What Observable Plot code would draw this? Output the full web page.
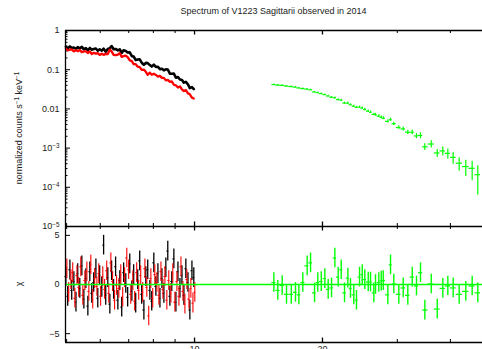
<!DOCTYPE html>
<html><head><meta charset="utf-8">
<script src="https://cdn.jsdelivr.net/npm/d3@7"></script>
<script src="https://cdn.jsdelivr.net/npm/@observablehq/plot@0.6"></script>
<style>
html,body{margin:0;padding:0;background:#fff;overflow:hidden;}
#wrap{position:relative;width:482px;height:349px;overflow:hidden;font-family:"Liberation Sans",Arial,sans-serif;color:#222;background:#fff;}
.abs{position:absolute;}
#title{left:65px;width:417px;top:7px;text-align:center;font-size:9px;line-height:9px;white-space:nowrap;}
.ylab{position:absolute;white-space:nowrap;font-size:9px;line-height:9px;transform:translate(-50%,-50%) rotate(-90deg);}
.ylab sup{font-size:6.3px;vertical-align:3px;line-height:0;}
svg{background:transparent !important;overflow:visible !important;}
</style></head><body>
<div id="wrap">
<div id="bot" class="abs" style="left:0;top:226px"></div>
<div id="top" class="abs" style="left:0;top:0"></div>
<div id="title" class="abs">Spectrum of V1223 Sagittarii observed in 2014</div>
<div class="ylab" style="left:19px;top:128px">normalized counts s<sup>−1</sup> keV<sup>−1</sup></div>
<div class="ylab" style="left:19px;top:284px">χ</div>
</div>
<script>
// ---------------- data ----------------
const xDomain = [4.97, 47.6];               // keV
const xTicksMinor = [5, 6, 7, 8, 9, 30, 40];
const xTicksMajor = [10, 20];
const xTickLabels = [10, 20];
const yTopMajor = [1e-5, 1e-4, 1e-3, 0.01, 0.1, 1];
const yTopDomain = [1e-5, 1];
const chiDomain = [-5.9, 5.9];
const chiTicks = [-5, 0, 5];

// black & red channel energies (keV), shared by spectra and residuals
const resE = [4.98,5.03,5.09,5.14,5.20,5.26,5.31,5.37,5.43,5.49,5.55,5.61,5.67,5.73,5.79,5.86,5.92,5.98,6.05,6.11,6.18,6.25,6.32,6.38,6.45,6.52,6.60,6.67,6.74,6.81,6.89,6.96,7.04,7.12,7.19,7.27,7.35,7.43,7.51,7.60,7.68,7.76,7.85,7.93,8.02,8.11,8.20,8.29,8.38,8.47,8.56,8.65,8.75,8.84,8.94,9.04,9.14,9.24,9.34,9.44,9.54,9.65,9.75,9.86,9.96];
// normalized counts s^-1 keV^-1
const blackRate = [0.387,0.354,0.392,0.358,0.369,0.336,0.376,0.351,0.382,0.330,0.355,0.313,0.358,0.324,0.335,0.348,0.305,0.330,0.308,0.345,0.287,0.339,0.354,0.401,0.333,0.338,0.311,0.331,0.268,0.312,0.301,0.275,0.276,0.222,0.218,0.176,0.182,0.183,0.151,0.134,0.149,0.147,0.131,0.120,0.135,0.118,0.119,0.103,0.106,0.0964,0.1025,0.101,0.079,0.0789,0.0795,0.0622,0.0652,0.0561,0.0549,0.0468,0.0489,0.0423,0.0340,0.0359,0.0319];
const redRate = [0.347,0.313,0.325,0.329,0.293,0.316,0.297,0.318,0.280,0.292,0.295,0.267,0.293,0.251,0.269,0.256,0.265,0.239,0.255,0.239,0.253,0.251,0.326,0.293,0.239,0.234,0.243,0.262,0.213,0.221,0.227,0.209,0.173,0.166,0.138,0.139,0.119,0.116,0.0987,0.101,0.0879,0.0741,0.084,0.0746,0.079,0.0736,0.0669,0.0694,0.0617,0.0619,0.0534,0.0549,0.0492,0.0501,0.0413,0.040,0.0352,0.0375,0.0316,0.0285,0.0301,0.0249,0.0236,0.0194,0.0184];
// residuals (chi)
const blackChi = [0.8,-1.2,1.5,-0.6,0.3,-1.8,1.1,-0.4,1.9,-1.5,0.6,-2.2,1.3,-0.9,0.2,1.6,-1.4,0.9,-0.3,4.0,-1.1,0.7,-2.0,1.4,-0.5,1.8,-1.6,0.4,-2.3,1.2,0.1,-1.3,2.1,-0.7,1.0,-1.9,0.5,2.4,-1.0,-2.6,0.8,1.5,-0.6,-1.7,2.2,-0.2,1.1,-1.4,0.6,-0.9,1.7,3.4,-1.2,0.3,2.6,-1.8,1.3,-0.4,0.9,-1.1,1.6,0.2,-2.6,1.4,0.7];
const redChi = [1.6,-0.8,0.5,1.2,-1.4,0.9,-0.3,1.8,-1.1,0.4,1.3,-0.7,2.0,-1.5,0.6,-0.2,1.1,-1.2,0.8,-0.5,1.4,-0.9,2.2,0.3,-1.6,-0.1,-0.4,1.0,-1.3,0.7,2.7,1.5,-1.0,0.4,-1.7,1.2,-0.6,0.9,-0.8,1.6,-0.3,-3.2,0.6,-1.4,1.0,0.2,-1.1,1.3,-0.5,0.8,-1.6,0.4,-0.9,1.1,-1.8,0.3,-1.2,1.8,-0.7,-2.0,0.5,-1.5,-0.4,-1.9,-0.8];

// green spectrum (top) and residuals (bottom)
const greenE = [15.37,15.70,16.08,16.46,16.89,17.28,17.60,17.98,18.41,18.75,19.16,19.50,19.87,20.26,20.63,21.01,21.39,21.78,22.14,22.54,22.95,23.28,23.70,24.05,24.45,24.81,25.16,25.63,25.95,26.42,26.66,27.14,27.50,27.80,28.50,28.92,29.44,30.25,30.98,31.76,32.53,33.29,34.02,34.83,36.06,37.25,38.39,39.45,40.61,41.95,43.48,45.01,46.40];
const greenRate = [0.0417,0.0403,0.0397,0.0382,0.0371,0.0359,0.0341,0.0329,0.0319,0.0306,0.0270,0.0260,0.0245,0.0231,0.0213,0.0198,0.0192,0.0172,0.0167,0.0141,0.0140,0.0128,0.0117,0.0109,0.0111,0.0105,0.00966,0.00876,0.00821,0.00723,0.00711,0.00652,0.00611,0.00577,0.00479,0.00530,0.00418,0.00335,0.00309,0.00254,0.00253,0.00204,0.00210,0.00108,0.00127,0.000752,0.000848,0.000734,0.000581,0.000412,0.000338,0.000305,0.000210];
const greenErrFrac = [0.035,0.035,0.035,0.035,0.035,0.036,0.037,0.038,0.039,0.04,0.041,0.042,0.043,0.044,0.045,0.046,0.048,0.05,0.052,0.054,0.056,0.058,0.06,0.062,0.064,0.066,0.068,0.07,0.073,0.076,0.078,0.08,0.083,0.086,0.09,0.095,0.1,0.11,0.12,0.13,0.14,0.15,0.17,0.19,0.21,0.23,0.26,0.29,0.33,0.38,0.44,0.52,0.7];
const greenChi = [0.2,-0.6,-0.1,-1.0,-1.0,-0.8,-1.05,0.2,1.9,2.2,-0.85,0.2,0.3,0.6,-0.5,-0.35,2.7,0.75,1.5,-0.85,0.65,-0.4,-1.05,-1.6,0.75,1.0,0.5,0.25,0.25,-0.85,0,0.2,0.35,0.4,-1.05,2.0,0.05,-1.0,-0.35,-1.1,0.75,-0.15,1.2,-2.6,0.05,-2.5,-0.4,-0.15,-0.35,-1.0,-0.7,-0.15,-0.85];

// ---------------- build ----------------
const COL = {black: "#000000", red: "#ff0000", green: "#00ff00"};
const FONT = '"Liberation Sans", Arial, sans-serif';

function binEdges(E) {
  const n = E.length;
  return E.map((e, i) => ({
    lo: i > 0 ? Math.sqrt(E[i - 1] * e) : e / Math.sqrt(E[1] / E[0]),
    hi: i < n - 1 ? Math.sqrt(e * E[i + 1]) : e * Math.sqrt(E[n - 1] / E[n - 2])
  }));
}
const greenEdges = binEdges(greenE);
const resEdges = binEdges(resE);

const blackSpec = resE.map((e, i) => ({e, v: blackRate[i]}));
const redSpec = resE.map((e, i) => ({e, v: redRate[i]}));
const greenSpec = greenE.map((e, i) => ({e, v: greenRate[i], lo: greenEdges[i].lo, hi: greenEdges[i].hi,
  v1: greenRate[i] * (1 - greenErrFrac[i]), v2: greenRate[i] * (1 + greenErrFrac[i])}));
const greenRes = greenE.map((e, i) => ({e, c: greenChi[i], lo: greenEdges[i].lo, hi: greenEdges[i].hi}));
const blackRes = resE.map((e, i) => ({e, c: blackChi[i], lo: resEdges[i].lo, hi: resEdges[i].hi}));
const redRes = resE.map((e, i) => ({e, c: redChi[i], lo: resEdges[i].lo, hi: resEdges[i].hi}));

const yTopMinor = [];
for (let k = -5; k < 0; k++) for (let m = 2; m <= 9; m++) yTopMinor.push(m * Math.pow(10, k));

const W = 482, ML = 65, FW = W - ML;
const TOP_MT = 30, TOP_FH = 196;
const BOT_FH = 116, BOT_MB = 24;

function xTicks(fh) {
  return [
    Plot.ruleX(xTicksMinor, {x: d => d, insetBottom: fh - 3, stroke: "#000", strokeWidth: 1}),
    Plot.ruleX(xTicksMajor, {x: d => d, insetBottom: fh - 4.5, stroke: "#000", strokeWidth: 1.3}),
    Plot.ruleX(xTicksMinor, {x: d => d, insetTop: fh - 3, stroke: "#000", strokeWidth: 1}),
    Plot.ruleX(xTicksMajor, {x: d => d, insetTop: fh - 4.5, stroke: "#000", strokeWidth: 1.3})
  ];
}

const topSvg = Plot.plot({
  width: W, height: TOP_MT + TOP_FH + 1,
  marginTop: TOP_MT, marginBottom: 1, marginLeft: ML, marginRight: 0,
  x: {type: "log", domain: xDomain, axis: null},
  y: {type: "log", domain: yTopDomain, label: null},
  style: {fontFamily: FONT, fontSize: "9px", color: "#222", background: "transparent", overflow: "visible"},
  marks: [
    Plot.axisY(yTopMajor, {anchor: "left", tickSize: 0, tickPadding: 6, label: null,
      tickFormat: d => d >= 0.01 ? String(d) : "10^" + Math.round(Math.log10(d))}),
    Plot.ruleY(yTopMinor, {y: d => d, insetRight: FW - 2.5, stroke: "#000"}),
    Plot.ruleY(yTopMajor, {y: d => d, insetRight: FW - 5, stroke: "#000"}),
    ...xTicks(TOP_FH),
    Plot.line(blackSpec, {x: "e", y: "v", stroke: COL.black, strokeWidth: 2.6}),
    Plot.line(redSpec, {x: "e", y: "v", stroke: COL.red, strokeWidth: 2.3}),
    Plot.ruleX(greenSpec, {x: "e", y1: "v1", y2: "v2", stroke: COL.green, strokeWidth: 1.2}),
    Plot.ruleY(greenSpec, {y: "v", x1: "lo", x2: "hi", stroke: COL.green, strokeWidth: 1.2}),
    Plot.ruleY([yTopDomain[1]], {stroke: "#000", strokeWidth: 1.3}),
    Plot.ruleY([yTopDomain[0]], {stroke: "#000", strokeWidth: 1.3}),
    Plot.ruleX([xDomain[0]], {stroke: "#000", strokeWidth: 1.3})
  ]
});
// superscript exponents on log tick labels
d3.select(topSvg).selectAll("text").each(function () {
  const m = this.textContent.match(/^10\^(-?\d+)$/);
  if (m) {
    const s = d3.select(this);
    s.text("10");
    s.append("tspan").attr("dy", "-0.45em").attr("font-size", "6.3px")
      .text(m[1].replace("-", "−"));
  }
});
document.getElementById("top").appendChild(topSvg);

const botSvg = Plot.plot({
  width: W, height: BOT_FH + BOT_MB,
  marginTop: 0, marginBottom: BOT_MB, marginLeft: ML, marginRight: 0,
  x: {type: "log", domain: xDomain, label: null},
  y: {type: "linear", domain: chiDomain, label: null},
  style: {fontFamily: FONT, fontSize: "9px", color: "#222", background: "transparent", overflow: "visible"},
  marks: [
    Plot.axisY(chiTicks, {anchor: "left", tickSize: 0, tickPadding: 6, label: null,
      tickFormat: d => d < 0 ? "−" + (-d) : String(d)}),
    Plot.axisX(xTickLabels, {anchor: "bottom", tickSize: 0, tickPadding: 3.5, label: null,
      tickFormat: d => String(d)}),
    Plot.ruleY(chiTicks, {y: d => d, insetRight: FW - 5, stroke: "#000"}),
    ...xTicks(BOT_FH),
    Plot.ruleX(blackRes, {x: "e", y1: d => d.c - 1, y2: d => d.c + 1, stroke: COL.black, strokeWidth: 1.3}),
    Plot.ruleY(blackRes, {y: "c", x1: "lo", x2: "hi", stroke: COL.black, strokeWidth: 1}),
    Plot.ruleX(redRes, {x: "e", y1: d => d.c - 1, y2: d => d.c + 1, stroke: COL.red, strokeWidth: 1.1, dx: 1}),
    Plot.ruleY(redRes, {y: "c", x1: "lo", x2: "hi", stroke: COL.red, strokeWidth: 1, dx: 1}),
    Plot.ruleY([0], {stroke: COL.green, strokeWidth: 1.4}),
    Plot.ruleX(greenRes, {x: "e", y1: d => d.c - 1, y2: d => d.c + 1, stroke: COL.green, strokeWidth: 1.4}),
    Plot.ruleY(greenRes, {y: "c", x1: "lo", x2: "hi", stroke: COL.green, strokeWidth: 1.2}),
    Plot.ruleY([chiDomain[0]], {stroke: "#000", strokeWidth: 1.3}),
    Plot.ruleX([xDomain[0]], {stroke: "#000", strokeWidth: 1.3})
  ]
});
document.getElementById("bot").appendChild(botSvg);
</script>
</body></html>
